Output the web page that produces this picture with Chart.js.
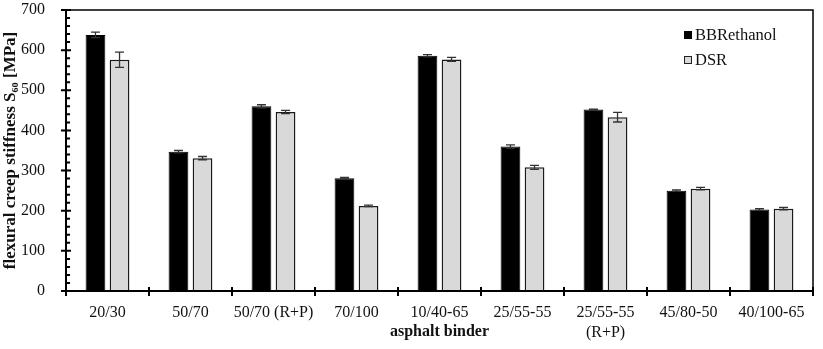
<!DOCTYPE html>
<html>
<head>
<meta charset="utf-8">
<script src="https://cdn.jsdelivr.net/npm/chart.js@4/dist/chart.umd.min.js"></script>
<style>
  body { margin: 0; background: #fff; }
  #wrap { position: relative; width: 823px; height: 349px; }
  #legend { position: absolute; left: 684px; top: 24px; font-family: "Liberation Serif", serif; font-size: 16.5px; color: #111; }
  #legend div { height: 25px; line-height: 22px; white-space: nowrap; }
  #legend span.box { display: inline-block; width: 8px; height: 8px; margin-right: 3px; vertical-align: 1px; box-sizing: border-box; }
</style>
</head>
<body>
<div id="wrap">
  <canvas id="chart" width="823" height="349"></canvas>
  <div id="legend">
    <div><span class="box" style="background:#000"></span>BBRethanol</div>
    <div><span class="box" style="background:#d9d9d9;border:1px solid #222"></span>DSR</div>
  </div>
</div>
<script>
const categories = ['20/30', '50/70', '50/70 (R+P)', '70/100', '10/40-65', '25/55-55', ['25/55-55', '(R+P)'], '45/80-50', '40/100-65'];
const bbrValues = [638, 347, 460, 281, 586, 360, 452, 250, 203];
const dsrValues = [576, 331, 446, 212, 577, 308, 433, 255, 205];
const bbrErrors = [7, 3, 4, 2, 3, 4, 1, 2, 2];
const dsrErrors = [19, 4, 4, 2, 5, 5, 12, 3, 3];
const yTicks = [0, 100, 200, 300, 400, 500, 600, 700];

const serif = '"Liberation Serif", "Times New Roman", serif';

// frame, crossing major ticks, minor ticks inside
const framePlugin = {
  id: 'frame',
  afterDraw(chart) {
    const ctx = chart.ctx;
    const a = chart.chartArea;
    const y = chart.scales.y;
    ctx.save();
    ctx.strokeStyle = '#000';
    ctx.lineWidth = 2;
    ctx.beginPath();
    ctx.moveTo(a.left, a.top); ctx.lineTo(a.left, a.bottom); ctx.lineTo(a.right, a.bottom);
    ctx.stroke();
    ctx.lineWidth = 1.5;
    ctx.beginPath();
    ctx.moveTo(a.left, a.top); ctx.lineTo(a.right, a.top); ctx.lineTo(a.right, a.bottom);
    ctx.stroke();

    ctx.lineWidth = 2;
    ctx.beginPath();
    yTicks.forEach(v => {
      const py = y.getPixelForValue(v);
      ctx.moveTo(a.left - 5, py); ctx.lineTo(a.left + 5, py);
    });
    for (let v = 20; v < 700; v += 20) {
      if (v % 100 === 0) continue;
      const py = y.getPixelForValue(v);
      ctx.moveTo(a.left, py); ctx.lineTo(a.left + 4, py);
    }
    const step = (a.right - a.left) / categories.length;
    for (let i = 0; i <= categories.length; i++) {
      const px = a.left + i * step;
      ctx.moveTo(px, a.bottom - 4); ctx.lineTo(px, a.bottom + 5);
    }
    ctx.stroke();
    ctx.restore();
  }
};

const errorPlugin = {
  id: 'errors',
  afterDatasetsDraw(chart) {
    const ctx = chart.ctx;
    const y = chart.scales.y;
    const errs = [bbrErrors, dsrErrors];
    ctx.save();
    ctx.strokeStyle = '#333';
    ctx.lineWidth = 1.3;
    chart.data.datasets.forEach((ds, di) => {
      chart.getDatasetMeta(di).data.forEach((bar, i) => {
        const v = ds.data[i], e = errs[di][i];
        const top = y.getPixelForValue(v + e), bot = y.getPixelForValue(v - e);
        ctx.beginPath();
        ctx.moveTo(bar.x, top); ctx.lineTo(bar.x, bot);
        ctx.moveTo(bar.x - 4.5, top); ctx.lineTo(bar.x + 4.5, top);
        ctx.moveTo(bar.x - 4.5, bot); ctx.lineTo(bar.x + 4.5, bot);
        ctx.stroke();
      });
    });
    ctx.restore();
  }
};

new Chart(document.getElementById('chart'), {
  type: 'bar',
  data: {
    labels: categories,
    datasets: [
      { label: 'BBRethanol', data: bbrValues, backgroundColor: '#000', borderColor: '#000', borderWidth: 1 },
      { label: 'DSR', data: dsrValues, backgroundColor: '#d9d9d9', borderColor: '#1a1a1a', borderWidth: 1.5 }
    ]
  },
  options: {
    responsive: false,
    animation: false,
    devicePixelRatio: 1,
    layout: { padding: { top: 10, right: 10, left: 0, bottom: 0 } },
    datasets: { bar: { categoryPercentage: 0.58, barPercentage: 0.82 } },
    plugins: { legend: { display: false }, tooltip: { enabled: false } },
    scales: {
      x: {
        grid: { display: false },
        border: { display: false },
        ticks: { color: '#111', font: { family: serif, size: 16, lineHeight: 1.3 }, padding: 3, maxRotation: 0, autoSkip: false },
        title: { display: true, text: 'asphalt binder', color: '#111', font: { family: serif, size: 16, weight: 'bold' }, padding: { top: 0, bottom: 8 } },
        afterFit(scale) { scale.height = 58; scale.paddingLeft = 0; scale.paddingRight = 0; }
      },
      y: {
        min: 0, max: 700,
        grid: { display: false },
        border: { display: false },
        ticks: { stepSize: 100, color: '#111', font: { family: serif, size: 16 }, padding: 13 },
        title: { display: true, text: 'flexural creep stiffness S₆₀ [MPa]', color: '#111', font: { family: serif, size: 17, weight: 'bold' }, padding: { top: 0, bottom: 0 } },
        afterFit(scale) { scale.width = 66; scale.paddingTop = 0; scale.paddingBottom = 0; }
      }
    }
  },
  plugins: [framePlugin, errorPlugin]
});
</script>
</body>
</html>
